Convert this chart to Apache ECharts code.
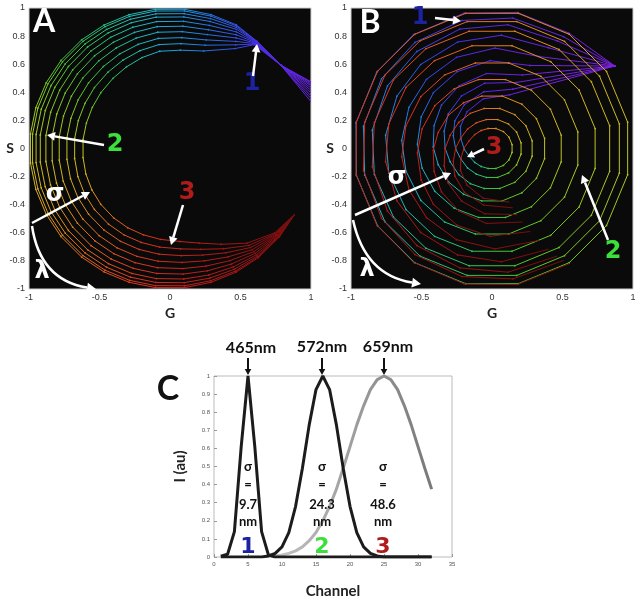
<!DOCTYPE html>
<html>
<head>
<meta charset="utf-8">
<title>Spectral phasor plots</title>
<script src="https://cdn.jsdelivr.net/npm/echarts@6/dist/echarts.min.js"></script>
<style>html,body{margin:0;background:#fff}#main{width:641px;height:600px}</style>
</head>
<body>
<div id="main"></div>
<script>
var myChart = echarts.init(document.getElementById('main'));

// colour of each of the 32 spectral channels on the phasor curves
var channelColor = ['#8a1ed8', '#7a20dc', '#6c22e0', '#5c26e4', '#4830e6', '#3252e6', '#2474e2', '#1e96dc',
    '#1eaed2', '#20bcb4', '#26c088', '#32c25a', '#4cc432', '#6ec628', '#92c824', '#b2c822',
    '#c8c020', '#d4ae20', '#dc9a20', '#e08420', '#e26c20', '#e05420', '#dc3c1e', '#d42a1c',
    '#c8201a', '#b81a18', '#a61614', '#941212', '#84100f', '#760e0d', '#6a0c0c', '#600a0a'];

// ---- panel A (1st harmonic): one curve per spectral width, one vertex per channel
var radiusA = [0.995, 0.98, 0.955, 0.925, 0.885, 0.84, 0.79, 0.735, 0.68, 0.62];
var channelsA = [3, 4, 5, 6, 7, 8, 9, 10, 11, 12, 13, 14, 15, 16, 17, 18, 19, 20, 21, 22, 23, 24, 25, 26, 27, 28, 29, 30];
var phaseA = [24, 37, 51, 62, 73, 84, 96, 107, 118, 129, 141, 152, 163, 174, 186, 197, 208, 219, 231, 242, 253, 264, 276, 287, 298, 309, 321, 332];
// radius the curves close in to near the spectral edges, and how far they close
var rimA = [1.13, 0.985, 0.98, 1, 1, 1, 1, 1, 1, 1, 1, 1, 1, 1, 1, 1, 1, 1, 1, 1, 1, 1, 1, 1, 1, 1, 1, 1];
var liftA = [1, 1, 0.92, 0.6, 0.3, 0.22, 0.2, 0.15, 0.1, 0.06, 0.03, 0.01, 0, 0, 0, 0.01, 0.02, 0.03, 0.04, 0.05, 0.06, 0.08, 0.12, 0.22, 0.4, 0.65, 0.88, 1];
// phase offset (deg) of the widest curve
var twistA = [-14, 0, 0, -5, -2, 0, 0, 0, 0, 0, 0, 0, 0, 0, 0, 0, 0, 0, 0, 0, 0, 0, 0, 0, 0, 0, 0, 0];

// ---- panel B (2nd harmonic): each curve goes twice round
var radiusB = [0.98, 0.92, 0.85, 0.745, 0.62, 0.5, 0.38, 0.29, 0.21, 0.145];
var channelsB = [2, 3, 4, 5, 6, 7, 8, 9, 10, 11, 12, 13, 14, 15, 16, 17, 18, 19, 20, 21, 22, 23, 24, 25, 26, 27, 28, 29, 30];
var phaseB = [34, 56, 79, 101, 124, 146, 169, 191, 214, 236, 259, 281, 304, 326, 349, 371, 394, 416, 439, 461, 484, 506, 529, 551, 574, 596, 619, 641, 664];
var rimB = [1.05, 1, 1, 1, 1, 1, 1, 1, 1, 1, 1, 1, 1, 1, 1, 1, 1, 1, 1, 1, 1, 1, 1, 1, 1, 1, 1, 1, 1];
var liftB = [1, 0.3, 0.25, 0.2, 0.15, 0.1, 0.06, 0.03, 0.015, 0.005, 0, 0, 0, 0, 0, 0, 0, 0, 0, 0, 0.005, 0.015, 0.03, 0.06, 0.1, 0.15, 0.2, 0.25, 0.3];
var twistB = [0, 16, 21, 23, 21, 17, 13, 8, 5, 3, 0, 0, 0, 0, 0, 0, 0, 0, 0, 0, -3, -5, -8, -13, -17, -21, -23, -21, -16];

// ---- panel C spectra
var channelC = [1, 2, 3, 4, 5, 6, 7, 8, 9, 10, 11, 12, 13, 14, 15, 16, 17, 18, 19, 20, 21, 22, 23, 24, 25, 26, 27, 28, 29, 30, 31, 32];
var spec1 = [0.005, 0.015, 0.14, 0.61, 1, 0.61, 0.14, 0.012, 0, 0, 0, 0, 0, 0, 0, 0, 0, 0, 0, 0, 0, 0, 0, 0, 0, 0, 0, 0, 0, 0, 0, 0];
var spec2 = [0, 0, 0, 0, 0, 0, 0, 0.006, 0.02, 0.056, 0.135, 0.28, 0.49, 0.73, 0.925, 1, 0.925, 0.73, 0.49, 0.28, 0.135, 0.056, 0.02, 0.006, 0, 0, 0, 0, 0, 0, 0, 0];
var channelC3 = [8, 9, 10, 11, 12, 13, 14, 15, 16, 17, 18, 19, 20, 21, 22, 23, 24, 25, 26, 27, 28, 29, 30, 31, 32];
var spec3 = [0.003, 0.006, 0.011, 0.02, 0.034, 0.056, 0.09, 0.135, 0.2, 0.28, 0.375, 0.49, 0.61, 0.73, 0.835, 0.925, 0.98, 1, 0.98, 0.925, 0.835, 0.73, 0.61, 0.49, 0.375];

// segments of every curve, drawn in channel order so later channels sit on top
function phasorSegments(radii, channels, phase, rim, lift, twist) {
    var rMin = Math.min.apply(null, radii);
    var segs = [];
    radii.forEach(function (rk) {
        var f = (1 - rk) / (1 - rMin);
        var pts = channels.map(function (ch, j) {
            var r = rk + (rim[j] - rk) * lift[j];
            var a = (phase[j] + twist[j] * f) * Math.PI / 180;
            return [r * Math.cos(a), r * Math.sin(a), ch];
        });
        for (var j = 0; j < pts.length - 1; j++) {
            segs.push([pts[j][0], pts[j][1], pts[j + 1][0], pts[j + 1][1], pts[j][2], pts[j + 1][2]]);
        }
    });
    return segs.map(function (s, i) { return [s, i]; })
        .sort(function (a, b) { return (a[0][4] - b[0][4]) || (a[1] - b[1]); })
        .map(function (p) { return p[0]; });
}

function renderSegment(params, api) {
    var p1 = api.coord([api.value(0), api.value(1)]);
    var p2 = api.coord([api.value(2), api.value(3)]);
    var c1 = channelColor[api.value(4) - 1];
    var c2 = channelColor[api.value(5) - 1];
    return {
        type: 'group',
        children: [{
            type: 'line',
            shape: {x1: p1[0], y1: p1[1], x2: p2[0], y2: p2[1]},
            style: {
                stroke: new echarts.graphic.LinearGradient(p1[0], p1[1], p2[0], p2[1],
                    [{offset: 0, color: c1}, {offset: 1, color: c2}], true),
                lineWidth: 1
            }
        }, {
            type: 'circle',
            shape: {cx: p1[0], cy: p1[1], r: 0.9},
            style: {fill: c1, opacity: 0.9}
        }]
    };
}

function zip(xs, ys) {
    return xs.map(function (x, i) { return [x, ys[i]]; });
}

function text(str, x, y, size, color, weight, family, rot) {
    return {
        type: 'text', x: x, y: y, rotation: rot || 0, z: 100,
        style: {
            text: str, fill: color, align: 'center', verticalAlign: 'middle',
            font: (weight || 'normal') + ' ' + size + 'px ' + (family || '"DejaVu Sans"')
        }
    };
}

function arrow(x1, y1, x2, y2, color, w, head) {
    var a = Math.atan2(y2 - y1, x2 - x1);
    var bx = x2 - head * Math.cos(a), by = y2 - head * Math.sin(a);
    var px = Math.sin(a) * head * 0.55, py = -Math.cos(a) * head * 0.55;
    return [
        {type: 'line', z: 100, shape: {x1: x1, y1: y1, x2: bx, y2: by}, style: {stroke: color, lineWidth: w}},
        {type: 'polygon', z: 100, shape: {points: [[x2, y2], [bx + px, by + py], [bx - px, by - py]]}, style: {fill: color}}
    ];
}

function curvedArrow(x1, y1, cx, cy, x2, y2, color, w, head) {
    var a = Math.atan2(y2 - cy, x2 - cx);
    var bx = x2 - head * Math.cos(a), by = y2 - head * Math.sin(a);
    var px = Math.sin(a) * head * 0.55, py = -Math.cos(a) * head * 0.55;
    return [
        {type: 'bezierCurve', z: 100, shape: {x1: x1, y1: y1, cpx1: cx, cpy1: cy, x2: bx, y2: by},
            style: {stroke: color, lineWidth: w, fill: null}},
        {type: 'polygon', z: 100, shape: {points: [[x2, y2], [bx + px, by + py], [bx - px, by - py]]}, style: {fill: color}}
    ];
}

var blue = '#1c22a0', green = '#3ce03c', red = '#b01c1c';
var white = '#ffffff', black = '#111111';
var labelFont = 'Lato';

var graphics = [].concat(
    // panel A
    [text('A', 44, 22, 32, white, 'bold', labelFont),
     text('1', 252, 84, 24, blue, 'bold'),
     text('2', 115, 145, 24, green, 'bold'),
     text('3', 187, 193, 24, red, 'bold'),
     text('σ', 55, 195, 24, white, 'bold'),
     text('λ', 42, 272, 24, white, 'bold'),
     text('S', 10, 148, 14, '#222', 'bold', labelFont),
     text('G', 170, 313, 14, '#222', 'bold', labelFont)],
    arrow(253, 76, 257, 44, white, 2.5, 8),
    arrow(104, 145, 47, 135, white, 2.5, 8),
    arrow(183, 205, 171, 245, white, 2.5, 8),
    arrow(32, 223, 90, 192, white, 2.5, 8),
    curvedArrow(32, 226, 40, 280, 96, 289, white, 2.5, 9),
    // panel B
    [text('B', 370, 23, 32, white, 'bold', labelFont),
     text('1', 420, 18, 24, blue, 'bold'),
     text('2', 613, 252, 24, green, 'bold'),
     text('3', 494, 148, 24, red, 'bold'),
     text('σ', 397, 178, 24, white, 'bold'),
     text('λ', 367, 270, 24, white, 'bold'),
     text('S', 330, 148, 14, '#222', 'bold', labelFont),
     text('G', 492, 313, 14, '#222', 'bold', labelFont)],
    arrow(435, 18, 461, 21, white, 2.5, 8),
    arrow(484, 149, 467, 157, white, 2.5, 7),
    arrow(608, 240, 582, 175, white, 2.5, 8),
    arrow(355, 215, 451, 173, white, 2.5, 8),
    curvedArrow(353, 220, 365, 275, 421, 284, white, 2.5, 9),
    // panel C
    [text('C', 168, 389, 34, black, 'bold', labelFont),
     text('465nm', 251, 348, 16, black, 'bold', labelFont),
     text('572nm', 322, 347, 16, black, 'bold', labelFont),
     text('659nm', 388, 347, 16, black, 'bold', labelFont)],
    arrow(248, 358, 248, 375, black, 2, 6),
    arrow(322, 358, 322, 375, black, 2, 6),
    arrow(384, 358, 384, 375, black, 2, 6),
    [text('σ', 248, 467, 13, black, 'bold', labelFont),
     text('=', 248, 485, 13, black, 'bold', labelFont),
     text('9.7', 248, 505, 13, black, 'bold', labelFont),
     text('nm', 248, 522, 13, black, 'bold', labelFont),
     text('1', 248, 547, 22, blue, 'bold'),
     text('σ', 322, 467, 13, black, 'bold', labelFont),
     text('=', 322, 485, 13, black, 'bold', labelFont),
     text('24.3', 322, 505, 13, black, 'bold', labelFont),
     text('nm', 322, 522, 13, black, 'bold', labelFont),
     text('2', 322, 547, 22, green, 'bold'),
     text('σ', 383, 467, 13, black, 'bold', labelFont),
     text('=', 383, 485, 13, black, 'bold', labelFont),
     text('48.6', 383, 505, 13, black, 'bold', labelFont),
     text('nm', 383, 522, 13, black, 'bold', labelFont),
     text('3', 383, 547, 22, red, 'bold')]
);

var phasorX = function (i) {
    return {gridIndex: i, type: 'value', min: -1, max: 1, interval: 0.5,
        axisLine: {show: false}, axisTick: {show: false}, splitLine: {show: false},
        axisLabel: {fontSize: 9, color: '#333', margin: 4}};
};
var phasorY = function (i) {
    return {gridIndex: i, type: 'value', min: -1, max: 1, interval: 0.2,
        axisLine: {show: false}, axisTick: {show: false}, splitLine: {show: false},
        axisLabel: {fontSize: 9, color: '#333', margin: 4}};
};

option = {
    animation: false,
    backgroundColor: '#fff',
    grid: [
        {left: 29, top: 8, width: 282, height: 281, show: true, backgroundColor: '#0a0a0a', borderColor: '#cfcfcf', borderWidth: 1},
        {left: 351, top: 8, width: 282, height: 281, show: true, backgroundColor: '#0a0a0a', borderColor: '#cfcfcf', borderWidth: 1},
        {left: 214, top: 376, width: 238, height: 185, show: true, backgroundColor: '#fff', borderColor: '#bbbbbb', borderWidth: 1}
    ],
    xAxis: [phasorX(0), phasorX(1), {
        gridIndex: 2, type: 'value', min: 0, max: 35, interval: 5,
        axisLine: {show: false}, splitLine: {show: false},
        axisTick: {inside: true, length: 3, lineStyle: {color: '#999'}},
        axisLabel: {fontSize: 6, color: '#555', margin: 4},
        name: 'Channel', nameLocation: 'middle', nameGap: 27,
        nameTextStyle: {fontSize: 15, fontWeight: 'bold', color: '#222', fontFamily: labelFont}
    }],
    yAxis: [phasorY(0), phasorY(1), {
        gridIndex: 2, type: 'value', min: 0, max: 1, interval: 0.1,
        axisLine: {show: false}, splitLine: {show: false},
        axisTick: {inside: true, length: 3, lineStyle: {color: '#999'}},
        axisLabel: {fontSize: 6, color: '#555', margin: 4},
        name: 'I (au)', nameLocation: 'middle', nameGap: 26, nameRotate: 90,
        nameTextStyle: {fontSize: 15, fontWeight: 'bold', color: '#222', fontFamily: labelFont}
    }],
    series: [
        {type: 'custom', xAxisIndex: 0, yAxisIndex: 0, clip: true, silent: true,
            encode: {x: [0, 2], y: [1, 3]}, renderItem: renderSegment,
            data: phasorSegments(radiusA, channelsA, phaseA, rimA, liftA, twistA)},
        {type: 'custom', xAxisIndex: 1, yAxisIndex: 1, clip: true, silent: true,
            encode: {x: [0, 2], y: [1, 3]}, renderItem: renderSegment,
            data: phasorSegments(radiusB, channelsB, phaseB, rimB, liftB, twistB)},
        {type: 'line', xAxisIndex: 2, yAxisIndex: 2, data: zip(channelC3, spec3), showSymbol: false,
            lineStyle: {width: 3, color: new echarts.graphic.LinearGradient(0, 0, 1, 0,
                [{offset: 0, color: '#c8c8c8'}, {offset: 1, color: '#777777'}])}},
        {type: 'line', xAxisIndex: 2, yAxisIndex: 2, data: zip(channelC, spec2), showSymbol: false,
            lineStyle: {width: 3, color: '#1c1c1c'}},
        {type: 'line', xAxisIndex: 2, yAxisIndex: 2, data: zip(channelC, spec1), showSymbol: false,
            lineStyle: {width: 3, color: '#1c1c1c'}}
    ],
    graphic: graphics
};

myChart.setOption(option);
</script>
</body>
</html>
